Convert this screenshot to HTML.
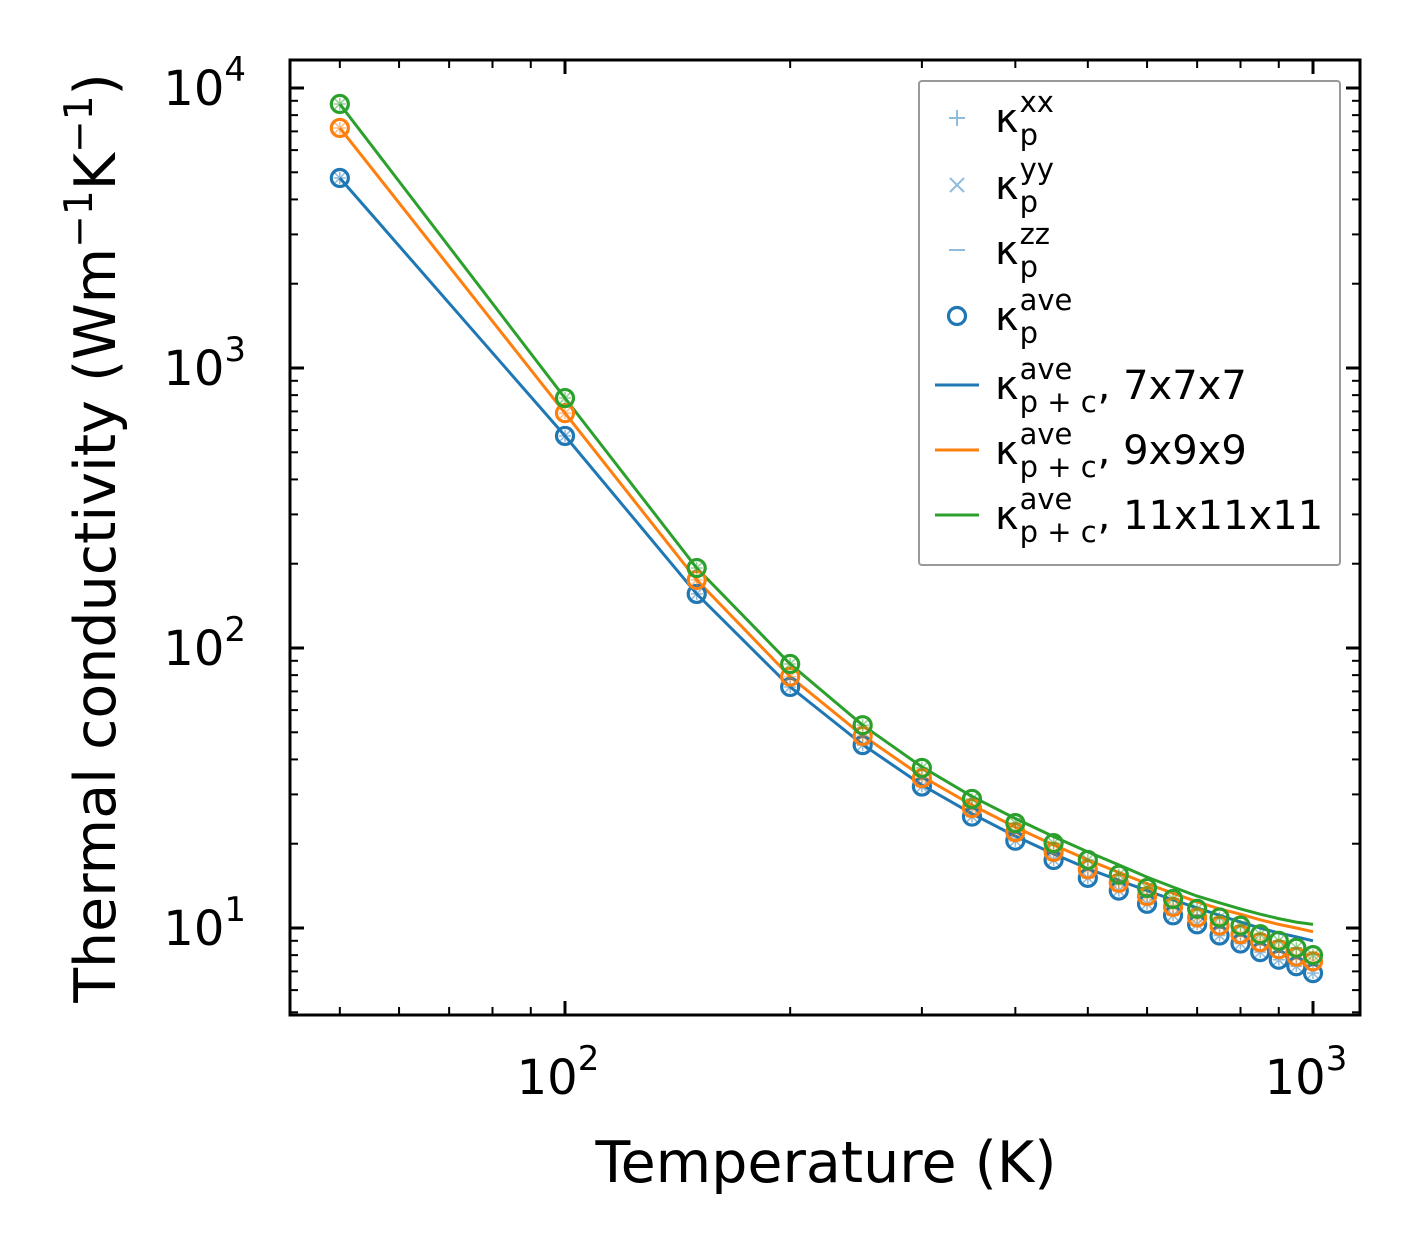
<!DOCTYPE html>
<html><head><meta charset="utf-8"><style>
body{margin:0;background:#fff}
svg{display:block;font-family:"DejaVu Sans","Liberation Sans",sans-serif}
</style></head><body>
<svg id="chart" width="1422" height="1254" viewBox="0 0 1422 1254" xmlns="http://www.w3.org/2000/svg">
<rect x="0" y="0" width="1422" height="1254" fill="#fff"/>
<g id="plot"></g>
<rect x="290" y="60" width="1070" height="955" fill="none" stroke="#000" stroke-width="3"/>
<g id="ticks"></g>
<text x="826" y="1182" font-size="57" text-anchor="middle">Temperature (K)</text>
<text transform="translate(115,538) rotate(-90)" font-size="57" text-anchor="middle">Thermal conductivity (Wm<tspan font-size="39" dy="-23">−1</tspan><tspan dy="23">K</tspan><tspan font-size="39" dy="-23">−1</tspan><tspan dy="23">)</tspan></text>
<g id="legend">
<rect x="919" y="81" width="421" height="484" fill="#fff" stroke="#999" stroke-width="2" rx="3"/>
</g>
</svg>
<script>
const temps=[50,100,150,200,250,300,350,400,450,500,550,600,650,700,750,800,850,900,950,1000];
const ptsBlue=[4770,572,156,72.6,45,32,25,20.5,17.5,15.1,13.6,12.2,11.1,10.3,9.4,8.8,8.2,7.7,7.3,6.9];
const ptsOrange=[7200,690,175,79,48.5,34.3,26.8,22,18.7,16.2,14.5,13,11.9,10.9,10.2,9.5,8.9,8.4,7.9,7.6];
const ptsGreen=[8770,781,193,87.7,53,37.3,28.9,23.7,20.1,17.5,15.5,13.9,12.7,11.7,10.9,10.2,9.5,9.0,8.5,8.0];
const lineBlue=[4770,572,156,72.6,45.2,32.4,25.6,21.3,18.4,16.3,14.8,13.6,12.6,11.8,11.1,10.5,10.0,9.6,9.3,9.0];
const lineOrange=[7200,690,175,79,48.7,34.8,27.5,22.9,19.8,17.5,15.8,14.4,13.3,12.4,11.7,11.2,10.7,10.3,10.0,9.7];
const lineGreen=[8770,781,193,87.7,53,37.6,29.5,24.6,21.2,18.7,16.8,15.2,14.0,13.0,12.3,11.7,11.2,10.8,10.5,10.3];
const yTickLabels=["1","2","3","4"];
const xTickLabels=["2","3"];

const NS="http://www.w3.org/2000/svg";
const X=v=>565+748*(Math.log10(v)-2);
const Y=v=>368-280*(Math.log10(v)-3);
function mk(tag,attrs,parent){const e=document.createElementNS(NS,tag);for(const k in attrs)e.setAttribute(k,attrs[k]);parent.appendChild(e);return e;}
const plot=document.getElementById('plot'),ticks=document.getElementById('ticks'),legend=document.getElementById('legend');
const series=[["blue","#1f77b4",ptsBlue,lineBlue],["orange","#ff7f0e",ptsOrange,lineOrange],["green","#2ca02c",ptsGreen,lineGreen]];
const clip=mk('clipPath',{id:'cp'},plot);mk('rect',{x:290,y:60,width:1070,height:955},clip);
const g=mk('g',{'clip-path':'url(#cp)'},plot);
series.forEach(([nm,col,pts,ln])=>{
  const d=temps.map((t,i)=>(i?'L':'M')+X(t).toFixed(1)+','+Y(ln[i]).toFixed(1)).join('');
  const p=mk('path',{d:d,fill:'none',stroke:col,'stroke-width':3},g);
  
  
});
series.forEach(([nm,col,pts])=>{
  temps.forEach((t,i)=>{
    const cx=X(t),cy=Y(pts[i]);
    const m=mk('path',{d:`M${cx-6},${cy}h12M${cx},${cy-6}v12M${cx-5},${cy-5}l10,10M${cx-5},${cy+5}l10,-10`,stroke:col,'stroke-width':1.5,opacity:0.5},g);
    
    
    const c=mk('circle',{cx:cx,cy:cy,r:8.5,fill:'none',stroke:col,'stroke-width':3.2},g);
    
    
  });
});
function tk(x1,y1,x2,y2,w){const l=mk('line',{x1,y1,x2,y2,stroke:'#000','stroke-width':w},ticks);}
for(let e=0;e<=4;e++){for(let m=1;m<10;m++){const v=m*Math.pow(10,e);const y=Y(v);if(y<62||y>1013)continue;const L=m===1?14:8,w=m===1?3:2;tk(290,y,290+L,y,w);tk(1360,y,1360-L,y,w);}}
for(let e=1;e<=3;e++){for(let m=1;m<10;m++){const v=m*Math.pow(10,e);const x=X(v);if(x<292||x>1358)continue;const L=m===1?14:8,w=m===1?3:2;tk(x,1015,x,1015-L,w);tk(x,60,x,60+L,w);}}
yTickLabels.forEach(s=>{const y=Y(Math.pow(10,+s));const t=mk('text',{x:246,y:y+17,'font-size':48,'text-anchor':'end'},ticks);t.innerHTML='10<tspan font-size="34" dy="-24">'+s+'</tspan>';});
xTickLabels.forEach(s=>{const x=X(Math.pow(10,+s));const t=mk('text',{x:x-7,y:1094,'font-size':48,'text-anchor':'middle'},ticks);t.innerHTML='10<tspan font-size="34" dy="-24">'+s+'</tspan>';});
const lc='#8fbcdc';
const items=[
 ['xx','',118,'plus'],['yy','',185,'cross'],['zz','',250,'minus'],['ave','',316,'circle'],
 ['ave',', 7x7x7',385,'#1f77b4'],['ave',', 9x9x9',450,'#ff7f0e'],['ave',', 11x11x11',515,'#2ca02c']];
items.forEach(([sup,tail,y,h],i)=>{
  const gg=mk('g',{},legend);
  
  
  const cx=957;
  if(h==='plus')mk('path',{d:`M${cx-8},${y}h16M${cx},${y-8}v16`,stroke:lc,'stroke-width':2},gg);
  else if(h==='cross')mk('path',{d:`M${cx-7},${y-7}l14,14M${cx-7},${y+7}l14,-14`,stroke:lc,'stroke-width':2},gg);
  else if(h==='minus')mk('path',{d:`M${cx-8},${y}h16`,stroke:lc,'stroke-width':2},gg);
  else if(h==='circle')mk('circle',{cx:cx,cy:y,r:8.5,fill:'none',stroke:'#1f77b4','stroke-width':3.2},gg);
  else mk('path',{d:`M935,${y}h44`,stroke:h,'stroke-width':3},gg);
  const k=mk('text',{x:995,y:y+14,'font-size':40},gg);k.textContent='κ';
  const sx=995+k.getComputedTextLength()+1;
  const sb=mk('text',{x:sx,y:y+27,'font-size':29},gg);sb.textContent=i>=4?'p + c':'p';
  const sp=mk('text',{x:sx,y:y-6,'font-size':29},gg);sp.textContent=sup;
  if(tail){const w=Math.max(sb.getComputedTextLength(),sp.getComputedTextLength());
    const tt=mk('text',{x:sx+w+1,y:y+14,'font-size':40},gg);tt.textContent=tail;}
});
</script>
</body></html>
